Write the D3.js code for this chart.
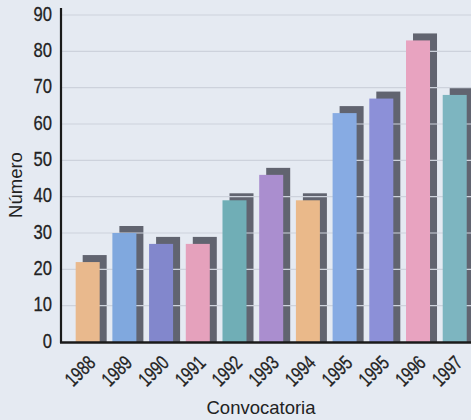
<!DOCTYPE html>
<html>
<head>
<meta charset="utf-8">
<script src="https://cdn.jsdelivr.net/npm/d3@7"></script>
<style>
  html, body { margin: 0; padding: 0; background: #e5eaf2; }
  svg { display: block; }
  .tick-label { font-family: "Liberation Sans", Arial, sans-serif; fill: #222; stroke: #222; stroke-width: 0.3px; }
  .axis-title { font-family: "Liberation Sans", Arial, sans-serif; font-size: 18.5px; fill: #222; }
</style>
</head>
<body>
<svg id="chart" width="471" height="420"></svg>
<script>
// Convocatorias y número por año
const years = ["1988", "1989", "1990", "1991", "1992", "1993", "1994", "1995", "1995", "1996", "1997"];
const values = [22, 30, 27, 27, 39, 46, 39, 63, 67, 83, 68];
const barColors = ["#e9b98d", "#80a8de", "#8287cc", "#e5a1bc", "#70aeb6", "#aa8ecf",
                   "#eab98a", "#87abe3", "#8c90d8", "#e8a3c0", "#7db5c0"];
const yTicks = [0, 10, 20, 30, 40, 50, 60, 70, 80, 90];

const svg = d3.select("#chart");
const x0 = 61, yBase = 342, yTop = 15;
const shadowDx = 7, shadowDy = -7;

const x = d3.scaleBand()
  .domain(d3.range(years.length))
  .range([x0, 481.4])
  .paddingInner(0.346)
  .paddingOuter(0.4);

const y = d3.scaleLinear().domain([0, 90]).range([yBase, yTop]);

// dark offset blocks behind each bar
svg.append("g").selectAll("rect")
  .data(values)
  .join("rect")
  .attr("x", (d, i) => x(i) + shadowDx)
  .attr("y", d => y(d) + shadowDy)
  .attr("width", x.bandwidth())
  .attr("height", d => yBase - y(d) - shadowDy)
  .attr("fill", "#616470");

// horizontal grid
svg.append("g").selectAll("line")
  .data(yTicks.filter(t => t > 0))
  .join("line")
  .attr("x1", x0).attr("x2", 471)
  .attr("y1", d => y(d)).attr("y2", d => y(d))
  .attr("stroke", "#cdd2dc")
  .attr("stroke-width", 1.2);

// coloured bars
svg.append("g").selectAll("rect")
  .data(values)
  .join("rect")
  .attr("x", (d, i) => x(i))
  .attr("y", d => y(d))
  .attr("width", x.bandwidth())
  .attr("height", d => yBase - y(d))
  .attr("fill", (d, i) => barColors[i]);

// y axis (condensed numerals)
const yAxis = d3.axisLeft(y).tickValues(yTicks).tickSize(0);
const gy = svg.append("g").attr("transform", `translate(${x0},0)`).call(yAxis);
gy.select(".domain").remove();
gy.selectAll(".tick text")
  .attr("class", "tick-label")
  .style("font-size", "20px")
  .attr("x", 0).attr("dy", "0.25em")
  .attr("transform", "translate(-9,0) scale(0.83,1)");
svg.append("line")
  .attr("x1", x0).attr("x2", x0).attr("y1", 8).attr("y2", yBase + 1)
  .attr("stroke", "#1a1a1a").attr("stroke-width", 2.2);

// x axis with slanted year labels
const xAxis = d3.axisBottom(x).tickFormat(i => years[i]).tickSize(0).tickPadding(0);
const gx = svg.append("g").attr("transform", `translate(0,${yBase})`).call(xAxis);
gx.select(".domain").remove();
gx.selectAll(".tick text")
  .attr("class", "tick-label")
  .style("font-size", "20px")
  .attr("text-anchor", "end")
  .attr("x", 0).attr("y", 0).attr("dy", 0)
  .attr("transform", "translate(9,22) rotate(-45) scale(0.75,1)");
svg.append("line")
  .attr("x1", x0 - 1).attr("x2", 471).attr("y1", yBase + 0.5).attr("y2", yBase + 0.5)
  .attr("stroke", "#1a1a1a").attr("stroke-width", 2.5);

// axis titles
svg.append("text")
  .attr("class", "axis-title")
  .attr("text-anchor", "middle")
  .attr("transform", "translate(22,185) rotate(-90)")
  .text("Número");
svg.append("text")
  .attr("class", "axis-title")
  .attr("text-anchor", "middle")
  .attr("x", 261).attr("y", 414)
  .text("Convocatoria");
</script>
</body>
</html>
